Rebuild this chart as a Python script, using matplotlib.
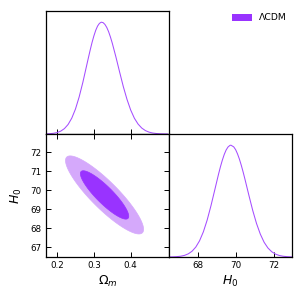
import numpy as np
import matplotlib
matplotlib.use("Agg")
import matplotlib.pyplot as plt
from matplotlib.patches import Patch

# ---- data ----
# 1D marginal of Omega_m (normalised to peak = 1)
om_grid = [0.17, 0.18, 0.19, 0.20, 0.21, 0.22, 0.23, 0.24, 0.25, 0.26, 0.27,
           0.28, 0.285, 0.29, 0.295, 0.30, 0.305, 0.31, 0.315, 0.32, 0.325,
           0.33, 0.335, 0.34, 0.345, 0.35, 0.36, 0.37, 0.38,
           0.39, 0.40, 0.41, 0.42, 0.43, 0.44, 0.45, 0.46, 0.47, 0.48, 0.49, 0.50]
om_dens = [0.0011, 0.0027, 0.0061, 0.0128, 0.0256, 0.0481, 0.0852, 0.142,
           0.223, 0.331, 0.461, 0.607, 0.680, 0.751, 0.818, 0.877, 0.927,
           0.965, 0.989, 1.0, 0.996, 0.980, 0.953, 0.915, 0.867,
           0.812, 0.687, 0.553, 0.423, 0.309, 0.214, 0.141, 0.0889, 0.0532,
           0.0303, 0.0164, 0.0085, 0.0042, 0.0019, 0.0009, 0.0004]

# 1D marginal of H0 (normalised to peak = 1)
h0_grid = [66.5, 66.7, 66.9, 67.1, 67.3, 67.5, 67.7, 67.9, 68.1, 68.3, 68.5,
           68.7, 68.9, 69.1, 69.2, 69.3, 69.4, 69.5, 69.6, 69.7, 69.75, 69.9,
           70.0, 70.1, 70.2, 70.3, 70.4, 70.5,
           70.7, 70.9, 71.1, 71.3, 71.5, 71.7, 71.9, 72.1, 72.3, 72.5, 72.7,
           72.9, 73.0]
h0_dens = [0.0006, 0.0014, 0.0032, 0.0069, 0.0142, 0.0277, 0.0509, 0.0885,
           0.145, 0.225, 0.330, 0.458, 0.599, 0.741, 0.807, 0.866, 0.917,
           0.957, 0.984, 0.998, 1.0, 0.985, 0.960, 0.922, 0.875, 0.819,
           0.757, 0.690, 0.551, 0.417, 0.300, 0.205, 0.132,
           0.081, 0.0472, 0.0260, 0.0136, 0.0068, 0.0032, 0.0014, 0.0009]

# 2D posterior summary (Omega_m, H0)
mean_2d = [0.329, 69.76]
sigma_2d = [0.0433, 0.84]
rho_2d = -0.88
chi2_levels = [5.99, 2.30]          # 95% and 68% contours

label_model = "ΛCDM"
om_ticks = [0.2, 0.3, 0.4]
h0_ticks_y = [67, 68, 69, 70, 71, 72]
h0_ticks_x = [68, 70, 72]

# ---- style ----
c_inner = "#9933ff"
c_outer = "#d5a9fb"
c_line = "#a54dff"

fig = plt.figure(figsize=(3.04, 3.04), dpi=100)
W = H = 304.0
def rect(x0, y0, x1, y1):
    return [x0 / W, 1 - y1 / H, (x1 - x0) / W, (y1 - y0) / H]

ax_top = fig.add_axes(rect(46, 11, 169, 134))
ax_2d = fig.add_axes(rect(46, 134, 169, 257))
ax_h0 = fig.add_axes(rect(169, 134, 292, 257))

om_lim = (0.170, 0.504)
h0_lim = (66.49, 72.97)

tick_kw = dict(direction="in", length=3.5, width=0.7, labelsize=6.3, pad=3)
for ax in (ax_top, ax_2d, ax_h0):
    for s in ax.spines.values():
        s.set_linewidth(0.9)

# top-left: Omega_m marginal
ax_top.plot(om_grid, om_dens, color=c_line, lw=0.75)
ax_top.set_xlim(om_lim)
ax_top.set_ylim(0, 1.1)
ax_top.set_xticks(om_ticks)
ax_top.set_yticks([])
ax_top.tick_params(axis="x", labelbottom=False, **tick_kw)

# bottom-left: 2D contours
sx, sy = sigma_2d
cov = np.array([[sx * sx, rho_2d * sx * sy], [rho_2d * sx * sy, sy * sy]])
L = np.linalg.cholesky(cov)
t = np.linspace(0, 2 * np.pi, 400)
circle = np.vstack([np.cos(t), np.sin(t)])
for lev, col in zip(chi2_levels, [c_outer, c_inner]):
    pts = L @ (circle * np.sqrt(lev))
    ax_2d.fill(mean_2d[0] + pts[0], mean_2d[1] + pts[1], color=col, lw=0.5,
               edgecolor=col)
ax_2d.set_xlim(om_lim)
ax_2d.set_ylim(h0_lim)
ax_2d.set_xticks(om_ticks)
ax_2d.set_yticks(h0_ticks_y)
ax_2d.set_xticklabels([f"{v:.1f}" for v in om_ticks])
ax_2d.tick_params(axis="both", top=True, right=True, **tick_kw)
ax_2d.set_xlabel(r"$\Omega_m$", fontsize=9, labelpad=3)
ax_2d.set_ylabel(r"$H_0$", fontsize=9, labelpad=5)

# bottom-right: H0 marginal
ax_h0.plot(h0_grid, h0_dens, color=c_line, lw=0.75)
ax_h0.set_xlim(h0_lim)
ax_h0.set_ylim(0, 1.1)
ax_h0.set_xticks(h0_ticks_x)
ax_h0.set_yticks([])
ax_h0.tick_params(axis="x", **tick_kw)
ax_h0.set_xlabel(r"$H_0$", fontsize=9, labelpad=3)

fig.legend(handles=[Patch(facecolor=c_inner, edgecolor="none")],
           labels=[label_model], loc="upper left",
           bbox_to_anchor=(232 / W, 1 - 13.5 / H), frameon=False,
           fontsize=6.7, borderpad=0, borderaxespad=0,
           handlelength=2.15, handleheight=0.75, handletextpad=0.7)

fig.savefig("out.png", dpi=100)
